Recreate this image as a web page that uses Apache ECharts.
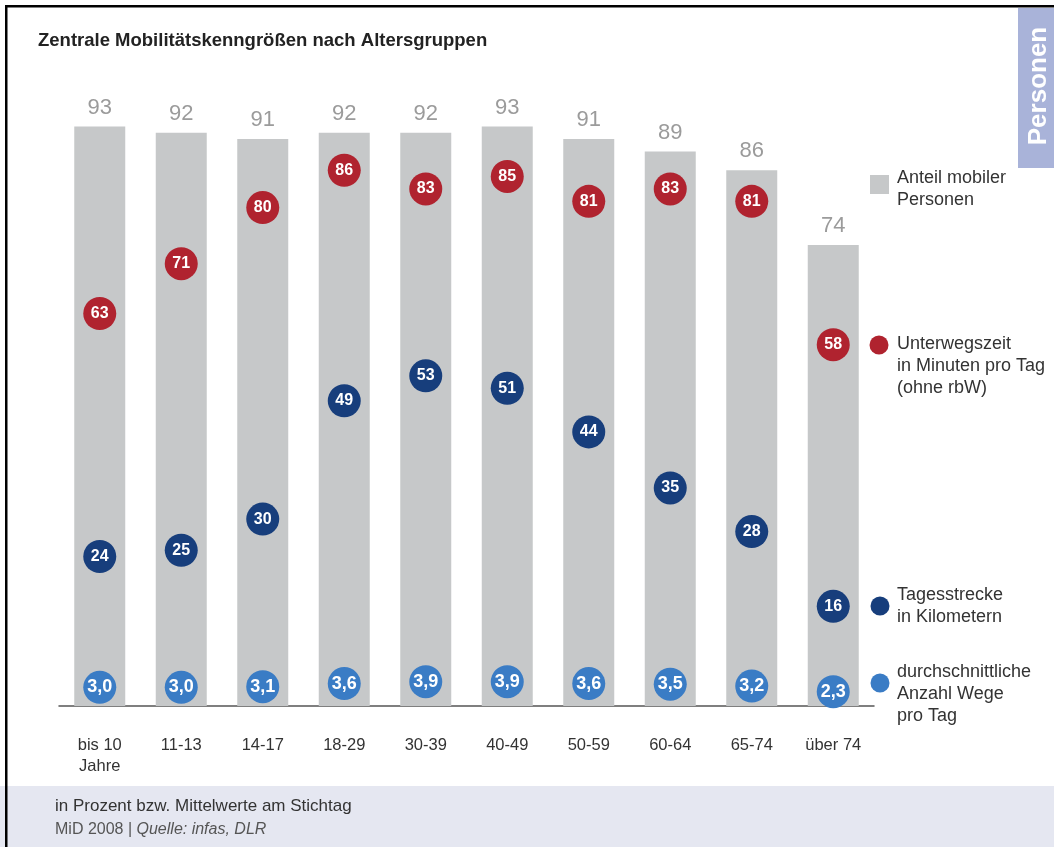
<!DOCTYPE html>
<html>
<head>
<meta charset="utf-8">
<script src="https://cdn.jsdelivr.net/npm/echarts@6/dist/echarts.min.js"></script>
<style>
  html, body { margin: 0; padding: 0; background: #fff; }
  #chart { width: 1054px; height: 847px; }
</style>
</head>
<body>
<div id="chart"></div>
<script>
// Altersgruppen
const categories = ['bis 10\nJahre', '11-13', '14-17', '18-29', '30-39', '40-49', '50-59', '60-64', '65-74', 'über 74'];
// Anteil mobiler Personen (%)
const mobileShare = [93, 92, 91, 92, 92, 93, 91, 89, 86, 74];
// Unterwegszeit in Minuten pro Tag
const travelTime = [63, 71, 80, 86, 83, 85, 81, 83, 81, 58];
// Tagesstrecke in km
const dailyDistance = [24, 25, 30, 49, 53, 51, 44, 35, 28, 16];
// durchschnittliche Anzahl Wege pro Tag
const tripsPerDay = [3.0, 3.0, 3.1, 3.6, 3.9, 3.9, 3.6, 3.5, 3.2, 2.3];

const FONT = '"Liberation Sans", Arial, sans-serif';
const C_BAR = '#c6c8c9';
const C_RED = '#b0232f';
const C_NAVY = '#173e7c';
const C_BLUE = '#3a7cc5';

const myChart = echarts.init(document.getElementById('chart'));

const dotSeries = (name, data, color, size, fmt) => ({
  name: name,
  type: 'scatter',
  data: data,
  symbol: 'circle',
  symbolSize: 33,
  z: 5,
  itemStyle: { color: color, opacity: 1 },
  label: {
    show: true,
    position: 'inside',
    color: '#fff',
    fontWeight: 'bold',
    fontSize: size,
    fontFamily: FONT,
    formatter: fmt
  }
});

// legend, drawn by hand so the multi-line texts sit like in the original
const legendText = (x, y, text) => ({
  type: 'text', left: x, top: y,
  style: { text: text, fill: '#333', font: '18px ' + FONT, lineHeight: 22 }
});

const option = {
  backgroundColor: '#fff',
  animation: false,
  title: {
    text: 'Zentrale Mobilitätskenngrößen nach Altersgruppen',
    left: 33, top: 26,
    textStyle: { fontSize: 18.5, fontWeight: 'bold', color: '#222', fontFamily: FONT }
  },
  grid: { left: 59, width: 815, top: 83, height: 623 },
  xAxis: {
    type: 'category',
    data: categories,
    axisLine: { lineStyle: { color: '#555', width: 1.5 } },
    axisTick: { show: false },
    axisLabel: { color: '#333', fontSize: 16.5, fontFamily: FONT, margin: 29, lineHeight: 21 }
  },
  yAxis: {
    type: 'value', min: 0, max: 100,
    show: false,
    splitLine: { show: false }
  },
  series: [
    {
      name: 'Anteil mobiler Personen',
      type: 'bar',
      data: mobileShare,
      barWidth: 51,
      itemStyle: { color: C_BAR },
      label: {
        show: true, position: 'top', distance: 8,
        color: '#9b9b9b', fontSize: 22, fontFamily: FONT
      }
    },
    dotSeries('Unterwegszeit', travelTime, C_RED, 16),
    dotSeries('Tagesstrecke', dailyDistance, C_NAVY, 16),
    dotSeries('Wege', tripsPerDay, C_BLUE, 18, p => p.value.toFixed(1).replace('.', ','))
  ],
  graphic: [
    // footer band
    { type: 'rect', shape: { x: 0, y: 786, width: 1054, height: 61 }, style: { fill: '#e5e7f1' }, z: -1 },
    { type: 'text', left: 55, top: 798, style: { text: 'in Prozent bzw. Mittelwerte am Stichtag', fill: '#333', font: '17px ' + FONT } },
    { type: 'text', left: 55, top: 822, style: {
      text: 'MiD 2008 | {i|Quelle: infas, DLR}', fill: '#555', font: '16px ' + FONT,
      rich: { i: { fontStyle: 'italic', fontSize: 16, fontFamily: FONT, fill: '#555' } }
    } },
    // frame
    { type: 'rect', shape: { x: 5, y: 5, width: 1054, height: 2.5 }, style: { fill: '#000' } },
    { type: 'rect', shape: { x: 5, y: 5, width: 2.5, height: 847 }, style: { fill: '#000' } },
    // Personen tab
    { type: 'rect', shape: { x: 1018, y: 8, width: 36, height: 160 }, style: { fill: '#a9b3d9' } },
    { type: 'text', x: 1039, y: 86, rotation: Math.PI / 2,
      style: { text: 'Personen', fill: '#fff', font: 'bold 26px ' + FONT, align: 'center', verticalAlign: 'middle' } },
    // legend
    { type: 'rect', shape: { x: 870, y: 175, width: 19, height: 19 }, style: { fill: C_BAR } },
    legendText(897, 167, 'Anteil mobiler\nPersonen'),
    { type: 'circle', shape: { cx: 879, cy: 345, r: 9.5 }, style: { fill: C_RED } },
    legendText(897, 333, 'Unterwegszeit\nin Minuten pro Tag\n(ohne rbW)'),
    { type: 'circle', shape: { cx: 880, cy: 606, r: 9.5 }, style: { fill: C_NAVY } },
    legendText(897, 584, 'Tagesstrecke\nin Kilometern'),
    { type: 'circle', shape: { cx: 880, cy: 683, r: 9.5 }, style: { fill: C_BLUE } },
    legendText(897, 661, 'durchschnittliche\nAnzahl Wege\npro Tag')
  ]
};
option && myChart.setOption(option);
</script>
</body>
</html>
